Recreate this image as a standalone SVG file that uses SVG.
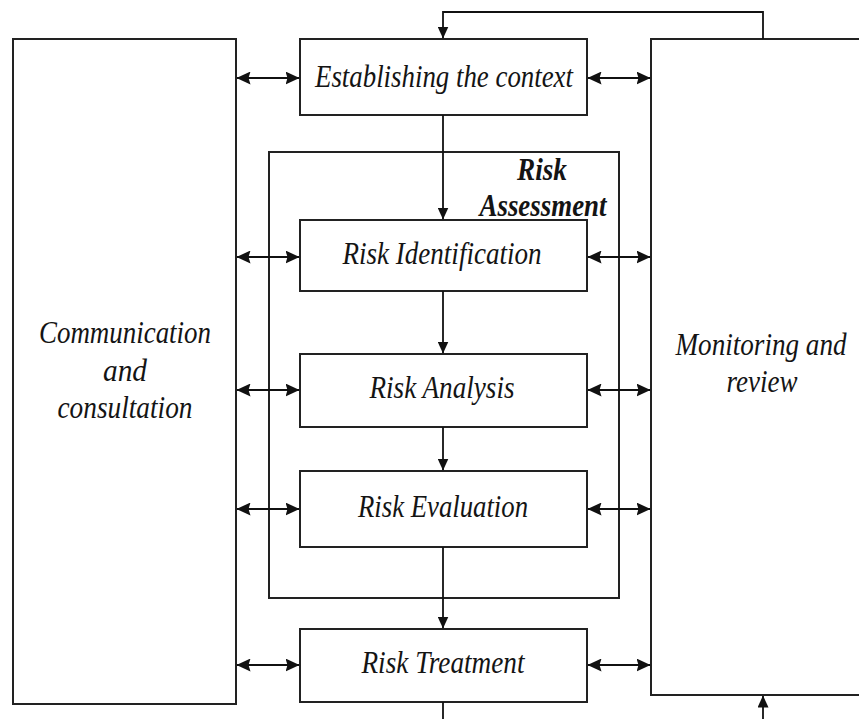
<svg xmlns="http://www.w3.org/2000/svg" width="859" height="719" viewBox="0 0 859 719">
  <style>
    .box { fill: #fff; stroke: #222; stroke-width: 2; }
    .frame { fill: none; stroke: #222; stroke-width: 2; }
    .link { fill: none; stroke: #111; stroke-width: 1.8; }
    .lbl { font-family: "Liberation Serif", "Times New Roman", serif; font-style: italic; font-size: 31px; fill: #141414; text-anchor: middle; }
    .bold { font-weight: bold; }
  </style>
  <defs>
    <marker id="head" viewBox="0 0 14 13" refX="13.5" refY="6.5" markerWidth="14" markerHeight="13" markerUnits="userSpaceOnUse" orient="auto-start-reverse">
      <path d="M0,0 L14,6.5 L0,13 L2,6.5 z" fill="#111"/>
    </marker>
    <marker id="headSm" viewBox="0 0 12 11" refX="11.5" refY="5.5" markerWidth="12" markerHeight="11" markerUnits="userSpaceOnUse" orient="auto">
      <path d="M0,0 L12,5.5 L0,11 z" fill="#111"/>
    </marker>
  </defs>

  <rect width="859" height="719" fill="#fff"/>

  <!-- side panels -->
  <g id="communication">
    <rect class="box" x="13" y="39" width="223" height="665"/>
    <text class="lbl" x="125" y="343" textLength="172" lengthAdjust="spacingAndGlyphs">Communication</text>
    <text class="lbl" x="125" y="381" textLength="44" lengthAdjust="spacingAndGlyphs">and</text>
    <text class="lbl" x="125" y="418" textLength="135" lengthAdjust="spacingAndGlyphs">consultation</text>
  </g>

  <g id="monitoring">
    <rect class="box" x="651" y="39" width="230" height="656"/>
    <text class="lbl" x="761" y="355" textLength="171" lengthAdjust="spacingAndGlyphs">Monitoring and</text>
    <text class="lbl" x="762" y="392" textLength="71" lengthAdjust="spacingAndGlyphs">review</text>
  </g>

  <!-- risk assessment frame -->
  <g id="risk-assessment">
    <rect class="frame" x="269" y="152" width="350" height="446"/>
    <text class="lbl bold" x="542" y="180" textLength="50" lengthAdjust="spacingAndGlyphs">Risk</text>
    <text class="lbl bold" x="543" y="216" textLength="127" lengthAdjust="spacingAndGlyphs">Assessment</text>
  </g>

  <!-- process steps -->
  <g id="context">
    <rect class="box" x="300" y="39" width="287" height="76"/>
    <text class="lbl" x="444" y="87" textLength="258" lengthAdjust="spacingAndGlyphs">Establishing the context</text>
  </g>
  <g id="identification">
    <rect class="box" x="300" y="220" width="287" height="71"/>
    <text class="lbl" x="442" y="264" textLength="199" lengthAdjust="spacingAndGlyphs">Risk Identification</text>
  </g>
  <g id="analysis">
    <rect class="box" x="300" y="354" width="287" height="73"/>
    <text class="lbl" x="442" y="398" textLength="145" lengthAdjust="spacingAndGlyphs">Risk Analysis</text>
  </g>
  <g id="evaluation">
    <rect class="box" x="300" y="471" width="287" height="76"/>
    <text class="lbl" x="443" y="517" textLength="170" lengthAdjust="spacingAndGlyphs">Risk Evaluation</text>
  </g>
  <g id="treatment">
    <rect class="box" x="300" y="629" width="287" height="73"/>
    <text class="lbl" x="443" y="673" textLength="163" lengthAdjust="spacingAndGlyphs">Risk Treatment</text>
  </g>

  <!-- connectors -->
  <g id="connectors">
    <!-- feedback loop from monitoring back to context -->
    <path class="link" d="M763,39 V12 H443 V38" marker-end="url(#headSm)"/>
    <!-- main flow -->
    <line class="link" x1="443" y1="115" x2="443" y2="219" marker-end="url(#headSm)"/>
    <line class="link" x1="443" y1="291" x2="443" y2="353" marker-end="url(#headSm)"/>
    <line class="link" x1="443" y1="427" x2="443" y2="470" marker-end="url(#headSm)"/>
    <line class="link" x1="443" y1="547" x2="443" y2="628" marker-end="url(#headSm)"/>
    <line class="link" x1="443" y1="702" x2="443" y2="719"/>
    <line class="link" x1="763" y1="719" x2="763" y2="696" marker-end="url(#headSm)"/>

    <!-- communication links -->
    <line class="link" x1="237" y1="78" x2="299" y2="78" marker-start="url(#head)" marker-end="url(#head)"/>
    <line class="link" x1="237" y1="257" x2="299" y2="257" marker-start="url(#head)" marker-end="url(#head)"/>
    <line class="link" x1="237" y1="390" x2="299" y2="390" marker-start="url(#head)" marker-end="url(#head)"/>
    <line class="link" x1="237" y1="509" x2="299" y2="509" marker-start="url(#head)" marker-end="url(#head)"/>
    <line class="link" x1="237" y1="665" x2="299" y2="665" marker-start="url(#head)" marker-end="url(#head)"/>

    <!-- monitoring links -->
    <line class="link" x1="588" y1="78" x2="650" y2="78" marker-start="url(#head)" marker-end="url(#head)"/>
    <line class="link" x1="588" y1="257" x2="650" y2="257" marker-start="url(#head)" marker-end="url(#head)"/>
    <line class="link" x1="588" y1="390" x2="650" y2="390" marker-start="url(#head)" marker-end="url(#head)"/>
    <line class="link" x1="588" y1="509" x2="650" y2="509" marker-start="url(#head)" marker-end="url(#head)"/>
    <line class="link" x1="588" y1="665" x2="650" y2="665" marker-start="url(#head)" marker-end="url(#head)"/>
  </g>
</svg>
